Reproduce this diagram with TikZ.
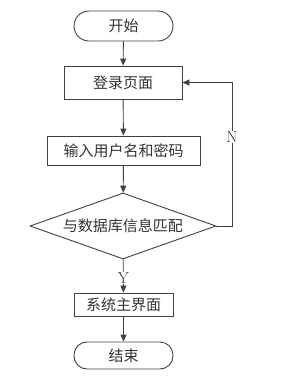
\documentclass[tikz,border=0pt]{standalone}
\usepackage{fontspec}
\newfontfamily\cjk{Noto Sans CJK SC}
\usetikzlibrary{arrows.meta,shapes.geometric,positioning}

\begin{document}
\begin{tikzpicture}[x=1pt,y=-1pt,
    every node/.style={font=\cjk\fontsize{15}{17}\selectfont, text=black!80},
    box/.style={draw=black!75, line width=0.9pt, rectangle},
    term/.style={box, rounded corners=13pt, minimum width=99pt},
    cond/.style={draw=black!75, line width=0.9pt, diamond, aspect=2.8,
      minimum width=186pt, minimum height=66pt, inner sep=0pt},
    flow/.style={draw=black!75, line width=0.9pt, -{Triangle[width=6pt,length=7pt]}},
    tag/.style={fill=white, inner sep=0.5pt, font=\fontsize{16}{18}\selectfont}]
  \useasboundingbox (0,0) rectangle (299,381);
  % nodes
  \node[term, minimum height=30pt, rounded corners=15pt] (start) at (123.5,26) {开始};
  \node[box, minimum width=118pt, minimum height=33pt] (login) at (123,82.5) {登录页面};
  \node[box, minimum width=153pt, minimum height=29pt] (input) at (123.5,150.5) {输入用户名和密码};
  \node[cond] (match) at (123,226) {与数据库信息匹配};
  \node[box, minimum width=99pt, minimum height=23pt] (home) at (123.5,304.5) {系统主界面};
  \node[term, minimum height=27pt] (stop) at (123.5,355.5) {结束};
  % connectors
  \draw[flow] (start) -- (login);
  \draw[flow] (login) -- (input);
  \draw[flow] (input) -- (match);
  \draw[flow] (match) -- node[tag, pos=0.55] {Y} (home);
  \draw[flow] (home) -- (stop);
  \coordinate (back) at (232,226);
  \draw[flow] (match.east) -- (back) |- node[tag, pos=0.31] {N} (login.east);
\end{tikzpicture}
\end{document}
